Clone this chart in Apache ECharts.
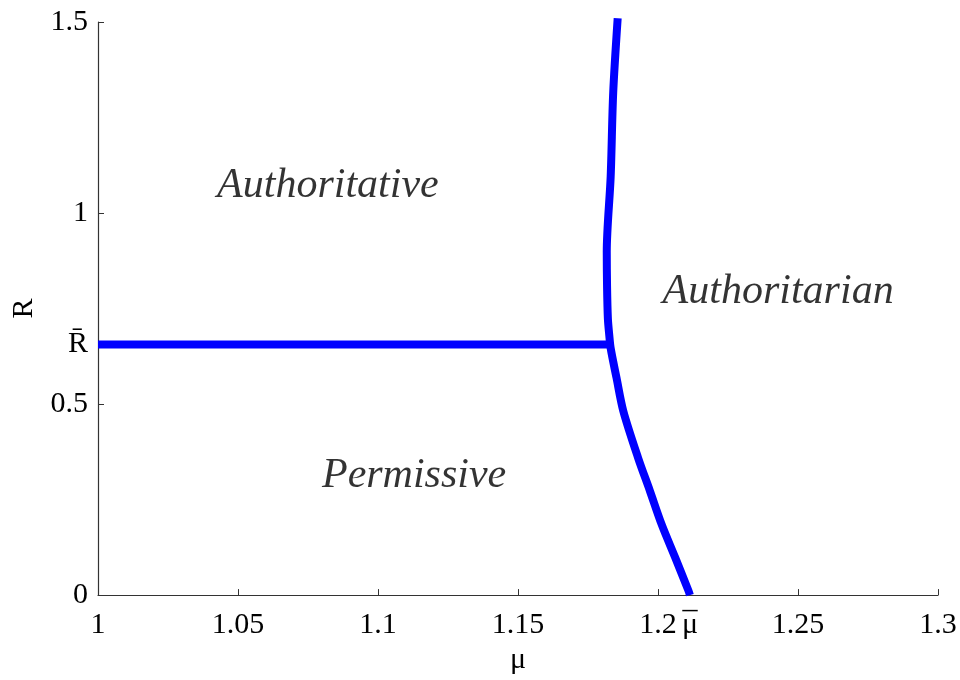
<!DOCTYPE html>
<html lang="en">
<head>
    <meta charset="UTF-8">
    <title>Regimes</title>
    <script src="https://cdn.jsdelivr.net/npm/echarts@6/dist/echarts.min.js"></script>
    <style>
        html, body { margin: 0; padding: 0; background: #fff; }
        #main { width: 960px; height: 680px; }
    </style>
</head>
<body>
<div id="main"></div>
<script>
    // values
    var xTicks = [1, 1.05, 1.1, 1.15, 1.2, 1.25, 1.3];
    var yTicks = [0, 0.5, 1, 1.5];
    var rBar = 0.656;
    var muBar = 1.2114;

    // horizontal boundary Permissive / Authoritative
    var flatLine = [[1, 0.656], [1.1818, 0.656]];

    // boundary with the Authoritarian region
    var curveX = [1.2114, 1.2108, 1.2061, 1.2013, 1.1971, 1.1929, 1.1876, 1.1852, 1.1831, 1.1826, 1.1821, 1.1818, 1.1817, 1.1831, 1.1840, 1.1856];
    var curveY = [0, 0.013, 0.099, 0.185, 0.273, 0.359, 0.482, 0.568, 0.646, 0.680, 0.724, 0.810, 0.898, 1.096, 1.315, 1.510];

    var regionNames = ['Authoritative', 'Authoritarian', 'Permissive'];
    var regionX = [1.0821, 1.2429, 1.1129];
    var regionY = [1.07, 0.794, 0.3125];

    var serif = '"Liberation Serif", "DejaVu Serif", serif';

    var curve = curveX.map(function (x, i) { return [x, curveY[i]]; });
    var regions = regionNames.map(function (n, i) { return { name: n, value: [regionX[i], regionY[i]] }; });

    var myChart = echarts.init(document.getElementById('main'));
    var option = {
        animation: false,
        grid: { left: 98, right: 22, top: 22, bottom: 82 },
        xAxis: {
            type: 'value',
            min: 1, max: 1.3,
            name: 'μ',
            nameLocation: 'middle',
            nameGap: 48,
            nameTextStyle: { fontFamily: serif, fontSize: 30, color: '#000' },
            splitLine: { show: false },
            axisLine: { lineStyle: { color: '#333', width: 1.2 } },
            axisTick: { inside: true, length: 6, customValues: xTicks, lineStyle: { color: '#333' } },
            axisLabel: {
                customValues: xTicks.concat([muBar]),
                // two-line label so a bar can sit over the μ
                formatter: function (v) {
                    var isBar = Math.abs(v - muBar) < 1e-6;
                    return '{o|' + (isBar ? '_' : ' ') + '}\n{m|' + (isBar ? 'μ' : String(v)) + '}';
                },
                rich: {
                    o: { fontFamily: serif, fontSize: 30, lineHeight: 2, color: '#000' },
                    m: { fontFamily: serif, fontSize: 30, lineHeight: 48, color: '#000' }
                },
                margin: 4
            }
        },
        yAxis: {
            type: 'value',
            min: 0, max: 1.5,
            name: 'R',
            nameLocation: 'middle',
            nameGap: 58,
            nameTextStyle: { fontFamily: serif, fontSize: 30, color: '#000' },
            splitLine: { show: false },
            axisLine: { show: true, lineStyle: { color: '#333', width: 1.2 } },
            axisTick: { show: true, inside: true, length: 6, customValues: yTicks, lineStyle: { color: '#333' } },
            axisLabel: {
                customValues: yTicks.concat([rBar]),
                formatter: function (v) { return Math.abs(v - rBar) < 1e-6 ? 'R\u0304' : String(v); },
                fontFamily: serif, fontSize: 30, color: '#000', margin: 10
            }
        },
        series: [
            {
                type: 'line', data: flatLine, symbol: 'none',
                lineStyle: { color: '#0000ff', width: 8 }
            },
            {
                type: 'line', data: curve, symbol: 'none', smooth: 0.3, clip: false,
                lineStyle: { color: '#0000ff', width: 8 }
            },
            {
                type: 'scatter', data: regions, symbolSize: 0,
                label: {
                    show: true, position: 'inside',
                    formatter: '{b}',
                    fontFamily: serif, fontStyle: 'italic', fontSize: 42, color: '#000'
                }
            }
        ]
    };
    myChart.setOption(option);
</script>
</body>
</html>
